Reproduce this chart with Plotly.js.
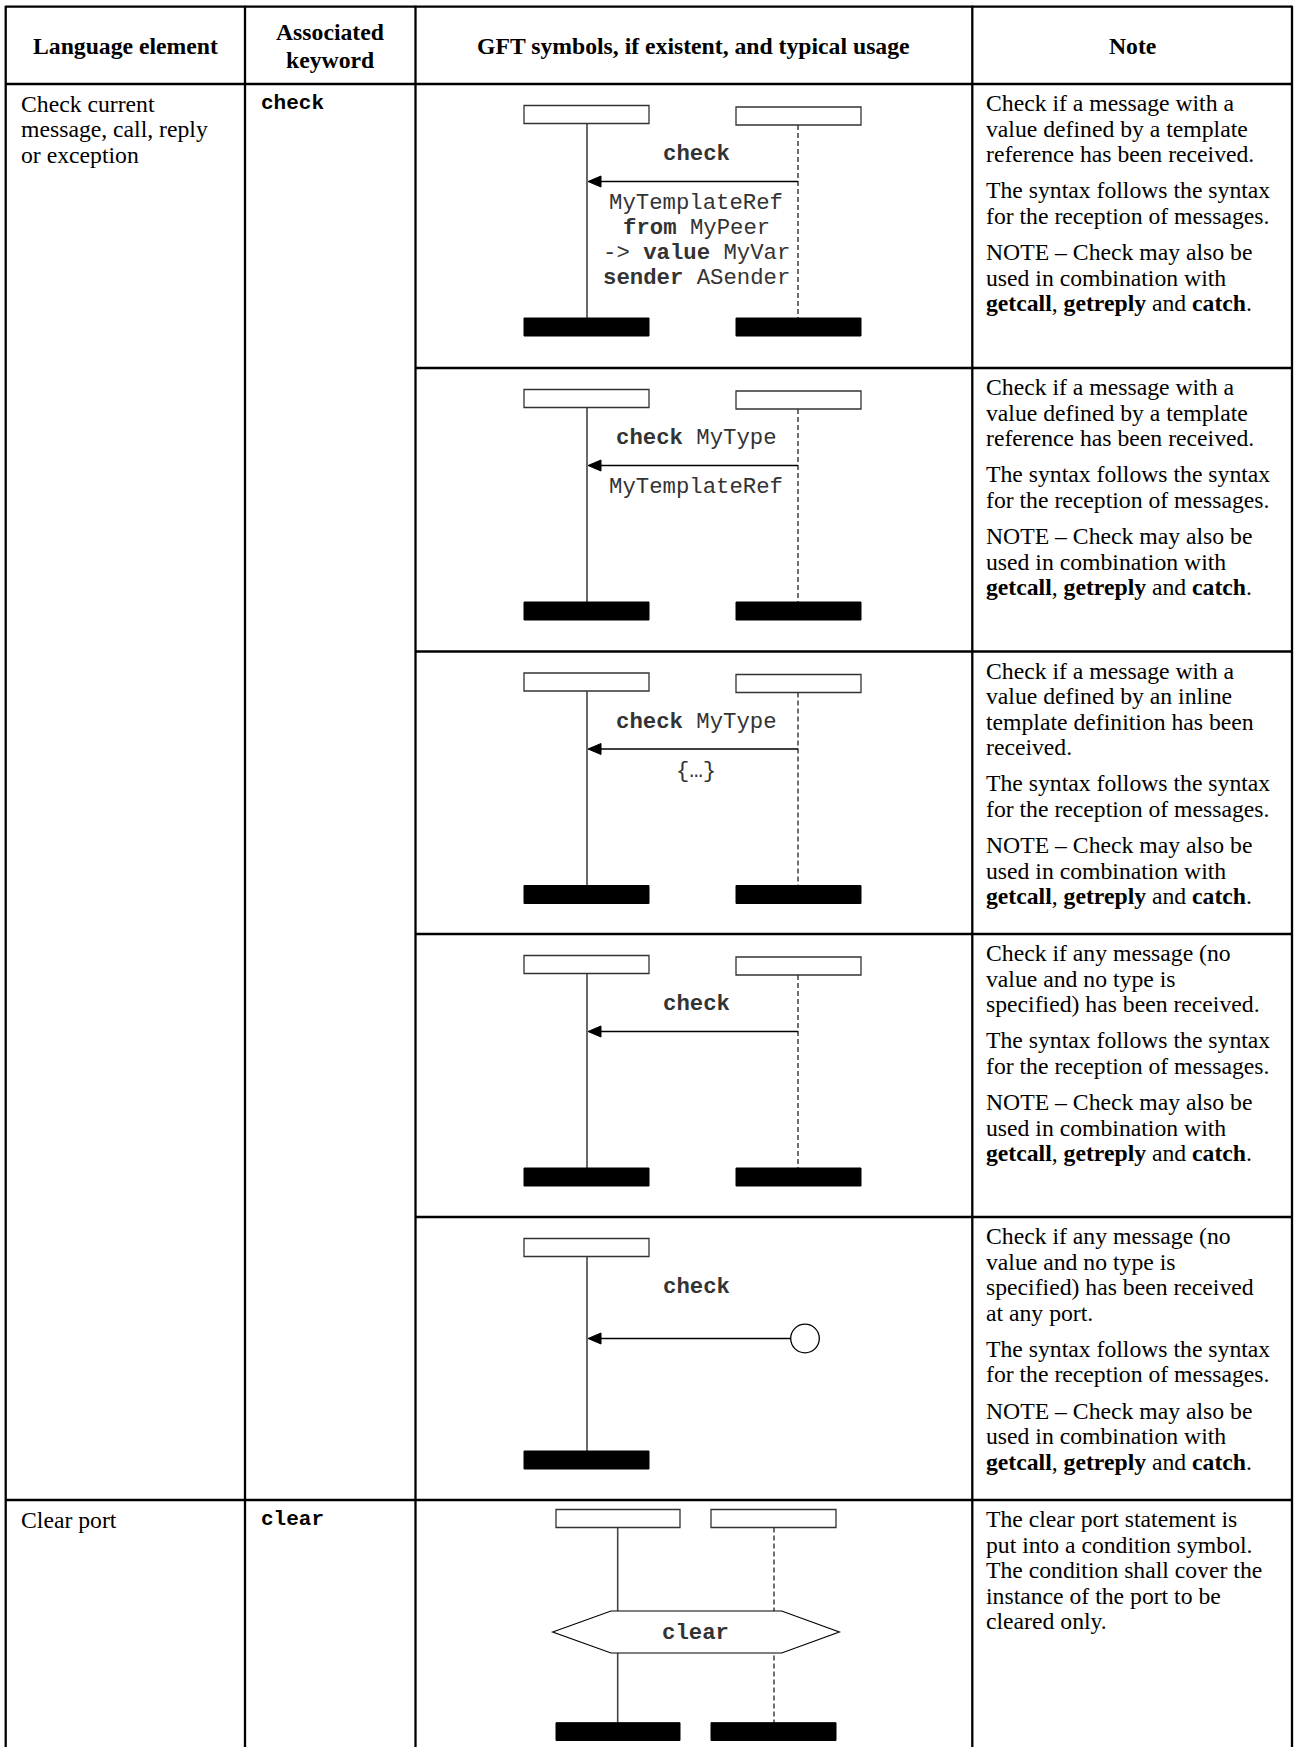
<!DOCTYPE html>
<html><head><meta charset="utf-8">
<script src="https://cdn.plot.ly/plotly-3.0.1.min.js"></script>
<style>html,body{margin:0;padding:0;background:#fff}#chart{width:1294px;height:1747px}</style>
</head><body><div id="chart"></div>
<script>
// ---------------- content ----------------
const headerLabels = [["Language element"], ["Associated", "keyword"], ["GFT symbols, if existent, and typical usage"], ["Note"]];
const languageElements = [["Check current", "message, call, reply", "or exception"], ["Clear port"]];
const keywords = ["check", "clear"];
const elementRowSpan = [5, 1];
const diagramKinds = ["exchange", "exchange", "exchange", "exchange", "anyport", "condition"];
const labelsAbove = ["<b>check</b>", "<b>check</b> MyType", "<b>check</b> MyType", "<b>check</b>", "<b>check</b>", "<b>clear</b>"];
const labelsBelow = [
  ["MyTemplateRef", "<b>from</b> MyPeer", "-&gt; <b>value</b> MyVar", "<b>sender</b> ASender"],
  ["MyTemplateRef"],
  ["{…}"],
  [], [], []
];
const firstParagraphs = [
  ["Check if a message with a", "value defined by a template", "reference has been received."],
  ["Check if a message with a", "value defined by a template", "reference has been received."],
  ["Check if a message with a", "value defined by an inline", "template definition has been", "received."],
  ["Check if any message (no", "value and no type is", "specified) has been received."],
  ["Check if any message (no", "value and no type is", "specified) has been received", "at any port."],
  ["The clear port statement is", "put into a condition symbol.", "The condition shall cover the", "instance of the port to be", "cleared only."]
];
const syntaxParagraph = ["The syntax follows the syntax", "for the reception of messages."];
const checkNoteParagraph = ["NOTE – Check may also be", "used in combination with", "<b>getcall</b>, <b>getreply</b> and <b>catch</b>."];
const noteParagraphs = firstParagraphs.map((p, i) => diagramKinds[i] === "condition" ? [p] : [p, syntaxParagraph, checkNoteParagraph]);

// ---------------- geometry ----------------
const W = 1294, H = 1747;
const colX = [5.7, 245, 415.5, 972.3, 1292];
const tableTop = 6.7, headerBottom = 84, tableBottom = 1747;
const subRowTops = [84, 368, 651.5, 934, 1217, 1500];

const SERIF = "Liberation Serif, Times New Roman, serif";
const MONO = "Liberation Mono, Courier New, monospace";
const serifSize = 23.7, monoSize = 22.3, kwSize = 21;
const lineStep = 25.5, paraGap = 10.8;

const shapes = [];
const annotations = [];

function rect(x0, y0, x1, y1, fill, lineColor, lw) {
  shapes.push({type: "rect", xref: "x", yref: "y", x0, y0, x1, y1, fillcolor: fill,
    line: {color: lineColor, width: lw}});
}
function line(x0, y0, x1, y1, color, width, dash) {
  shapes.push({type: "line", xref: "x", yref: "y", x0, y0, x1, y1,
    line: {color, width, dash: dash || "solid"}});
}
function path(d, fill, color, width) {
  shapes.push({type: "path", xref: "x", yref: "y", path: d, fillcolor: fill,
    line: {color, width}});
}
function text(x, y, t, family, size, anchor, color) {
  annotations.push({x, y, xref: "x", yref: "y", text: t, showarrow: false,
    xanchor: anchor || "left", yanchor: "middle", align: anchor === "center" ? "center" : "left",
    borderpad: 0, font: {family, size, color: color || "#000"}});
}

// ---- header texts ----
headerLabels.forEach((lines, c) => {
  const cx = (colX[c] + colX[c + 1]) / 2;
  const cy = (tableTop + headerBottom) / 2 + 1;
  const step = 28;
  lines.forEach((ln, k) => {
    text(cx, cy + (k - (lines.length - 1) / 2) * step, "<b>" + ln + "</b>", SERIF, serifSize, "center");
  });
});

// ---- language element + keyword ----
let rowIdx = 0;
languageElements.forEach((lines, e) => {
  const T = subRowTops[rowIdx];
  lines.forEach((ln, k) => text(colX[0] + 14, T + 19.5 + k * 25.5, ln, SERIF, serifSize, "left"));
  text(colX[1] + 14.5, T + 19.5, "<b>" + keywords[e] + "</b>", MONO, kwSize, "left");
  rowIdx += elementRowSpan[e];
});

// ---- notes ----
noteParagraphs.forEach((paras, r) => {
  const T = subRowTops[r];
  let y = T + 19;
  paras.forEach((p, pi) => {
    if (pi > 0) y += paraGap;
    p.forEach(ln => { text(colX[3] + 12.5, y, ln, SERIF, serifSize, "left"); y += lineStep; });
  });
});

// ---- diagrams ----
const GREY = "#444", OUT = "#333", DASH = "#222";
function arrowHead(tipX, y) {
  path(`M ${tipX} ${y} L ${tipX + 13} ${y - 5.5} L ${tipX + 13} ${y + 5.5} Z`, "#000", "#000", 1);
}
diagramKinds.forEach((kind, r) => {
  const T = subRowTops[r];
  const labelX = 696;
  if (kind === "exchange" || kind === "anyport") {
    const L = {x0: 524, x1: 649, life: 587};
    const R = {x0: 736, x1: 861, life: 798};
    const barTop = T + 234, barBot = T + 252;
    line(L.life, T + 39.5, L.life, barTop, GREY, 1.6);
    rect(L.x0, T + 21.5, L.x1, T + 39.5, "#fff", OUT, 1.3);
    rect(L.x0, barTop, L.x1, barBot, "#000", "#000", 1);
    if (kind === "exchange") {
      const msgY = T + 97.5;
      line(R.life, T + 41, R.life, barTop, DASH, 1.3, "5px,3px");
      rect(R.x0, T + 23, R.x1, T + 41, "#fff", OUT, 1.3);
      rect(R.x0, barTop, R.x1, barBot, "#000", "#000", 1);
      line(R.life, msgY, L.life + 10, msgY, "#000", 1.4);
      arrowHead(L.life + 1, msgY);
    } else {
      const msgY = T + 121.5, cx = 805, rad = 14.3;
      line(cx - rad, msgY, L.life + 10, msgY, "#000", 1.4);
      arrowHead(L.life + 1, msgY);
      shapes.push({type: "circle", xref: "x", yref: "y", x0: cx - rad, x1: cx + rad, y0: msgY - rad, y1: msgY + rad,
        fillcolor: "#fff", line: {color: "#000", width: 1.3}});
    }
    text(labelX, T + 70.2, labelsAbove[r], MONO, monoSize, "center", "#333");
    labelsBelow[r].forEach((ln, k) => text(labelX, T + 119.2 + k * 24.8, ln, MONO, monoSize, "center", "#333"));
  } else if (kind === "condition") {
    const L = {x0: 556, x1: 680, life: 617.7};
    const R = {x0: 711, x1: 836, life: 774};
    const barTop = T + 222.7, barBot = T + 240.5;
    const cy = T + 132, hh = 21;
    line(L.life, T + 27.5, L.life, barTop, GREY, 1.6);
    line(R.life, T + 27.5, R.life, barTop, DASH, 1.3, "5px,3px");
    rect(L.x0, T + 9.5, L.x1, T + 27.5, "#fff", OUT, 1.3);
    rect(R.x0, T + 9.5, R.x1, T + 27.5, "#fff", OUT, 1.3);
    rect(L.x0, barTop, L.x1, barBot, "#000", "#000", 1);
    rect(R.x0, barTop, R.x1, barBot, "#000", "#000", 1);
    path(`M 552.7 ${cy} L 611 ${cy - hh} L 781.7 ${cy - hh} L 839.3 ${cy} L 781.7 ${cy + hh} L 611 ${cy + hh} Z`, "#fff", "#000", 1.2);
    text(695.7, cy + 1, labelsAbove[r], MONO, monoSize, "center", "#333");
  }
});

// ---- table rules ----
const RULE = 2.3;
line(colX[0], tableTop, colX[4], tableTop, "#000", RULE);
line(colX[0], headerBottom, colX[4], headerBottom, "#000", RULE);
subRowTops.slice(1).forEach(y => {
  const full = y === subRowTops[subRowTops.length - 1];
  line(full ? colX[0] : colX[2], y, colX[4], y, "#000", RULE);
});
colX.forEach(x => line(x, tableTop - 1, x, tableBottom + 2, "#000", RULE));

Plotly.newPlot("chart", [], {
  width: W, height: H, margin: {l: 0, r: 0, t: 0, b: 0, pad: 0},
  paper_bgcolor: "#fff", plot_bgcolor: "#fff", showlegend: false,
  xaxis: {range: [0, W], visible: false, fixedrange: true},
  yaxis: {range: [H, 0], visible: false, fixedrange: true},
  shapes, annotations
}, {staticPlot: true, displayModeBar: false});
</script></body></html>
